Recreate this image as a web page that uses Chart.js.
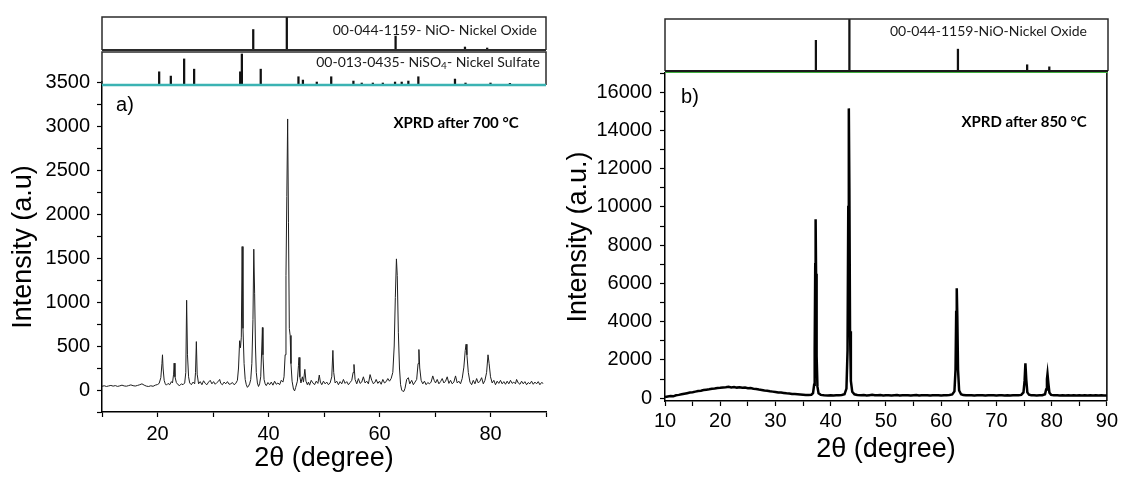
<!DOCTYPE html>
<html>
<head>
    <title>XRD NiO</title>
    <script src="https://cdn.jsdelivr.net/npm/chart.js"></script>
    <style>
        body { margin: 0; background: #fff; }
        .box { position: absolute; }
    </style>
</head>
<body>
    <div class="box" style="left:0;top:0"><canvas id="leftMain" width="560" height="477"></canvas></div>
    <div class="box" style="left:560px;top:0"><canvas id="rightMain" width="561" height="477"></canvas></div>
    <div class="box" style="left:100px;top:15px"><canvas id="leftNiO" width="448" height="37"></canvas></div>
    <div class="box" style="left:100px;top:50px"><canvas id="leftNiSO4" width="448" height="37"></canvas></div>
    <div class="box" style="left:663px;top:17px"><canvas id="rightNiO" width="447" height="56"></canvas></div>

    <script>
        // a) pattern after 700 °C  [2theta, counts]
        var pattern700 = [
            [10.0,42],[10.4,48],[10.8,40],[11.2,46],[11.6,52],[12.0,44],[12.4,50],[12.8,41],[13.2,47],[13.6,55],
            [14.0,46],[14.4,43],[14.8,50],[15.2,58],[15.6,49],[16.0,45],[16.4,52],[16.8,60],[17.2,70],[17.6,55],
            [18.0,44],[18.4,40],[18.8,48],[19.2,42],[19.6,55],[20.0,62],[20.3,75],[20.6,140],[20.8,300],[20.9,400],
            [21.0,250],[21.2,110],[21.4,70],[21.6,55],[21.9,75],[22.2,60],[22.5,95],[22.7,80],[22.9,180],[23.0,305],
            [23.15,150],[23.4,85],[23.7,60],[24.0,50],[24.3,70],[24.6,60],[24.9,80],[25.1,200],[25.25,1020],[25.4,400],
            [25.6,150],[25.8,80],[26.1,60],[26.4,90],[26.7,70],[26.85,200],[27.0,550],[27.15,180],[27.4,70],[27.7,95],
            [28.0,60],[28.3,105],[28.6,75],[28.9,60],[29.2,90],[29.5,110],[29.8,70],[30.1,95],[30.4,65],[30.7,85],
            [31.0,100],[31.2,120],[31.4,75],[31.7,60],[32.0,90],[32.3,70],[32.6,95],[32.9,65],[33.2,70],[33.5,85],
            [33.8,60],[34.1,75],[34.4,110],[34.6,250],[34.8,560],[34.95,480],[35.1,600],[35.25,1630],[35.4,700],[35.6,300],
            [35.8,120],[36.0,60],[36.2,30],[36.4,45],[36.6,70],[36.8,120],[37.0,300],[37.2,800],[37.35,1600],[37.5,1100],
            [37.65,500],[37.8,200],[38.0,80],[38.2,40],[38.4,70],[38.6,150],[38.8,500],[38.9,710],[39.0,400],[39.2,120],
            [39.4,70],[39.6,50],[39.9,85],[40.2,60],[40.5,90],[40.8,55],[41.1,100],[41.4,65],[41.7,80],[42.0,60],
            [42.3,110],[42.6,90],[42.8,150],[43.0,400],[43.15,1300],[43.3,2200],[43.45,3080],[43.6,1900],[43.75,700],[43.9,620],
            [44.05,300],[44.25,100],[44.5,10],[44.7,-10],[44.9,30],[45.2,100],[45.4,280],[45.5,370],[45.65,150],[45.85,80],
            [46.1,150],[46.3,90],[46.55,235],[46.75,100],[47.0,60],[47.2,90],[47.4,55],[47.7,110],[48.0,80],[48.3,60],
            [48.6,100],[48.9,75],[49.15,170],[49.35,90],[49.6,60],[49.9,100],[50.2,70],[50.5,90],[50.8,60],[51.1,80],
            [51.4,150],[51.6,450],[51.75,200],[52.0,80],[52.3,100],[52.6,60],[52.9,95],[53.2,70],[53.5,120],[53.8,75],
            [54.1,95],[54.4,60],[54.7,85],[55.0,110],[55.25,200],[55.4,290],[55.6,120],[55.9,70],[56.2,130],[56.5,75],
            [56.8,90],[57.1,150],[57.4,80],[57.7,100],[58.0,70],[58.3,175],[58.6,110],[58.9,70],[59.2,90],[59.4,120],
            [59.7,75],[60.0,100],[60.3,65],[60.6,120],[60.9,80],[61.2,95],[61.5,130],[61.8,100],[62.1,130],[62.4,200],
            [62.65,500],[62.85,1050],[63.05,1490],[63.2,1300],[63.4,650],[63.6,250],[63.8,60],[64.0,0],[64.2,-15],[64.4,-15],
            [64.6,20],[64.9,120],[65.2,140],[65.45,70],[65.8,110],[66.1,60],[66.4,90],[66.7,120],[66.95,300],[67.1,460],
            [67.25,250],[67.5,110],[67.8,70],[68.1,100],[68.4,60],[68.7,85],[69.0,70],[69.3,90],[69.6,160],[69.85,110],
            [70.1,80],[70.4,120],[70.7,70],[71.0,95],[71.3,130],[71.6,80],[71.9,100],[72.2,150],[72.5,75],[72.8,110],
            [73.1,70],[73.4,90],[73.7,160],[74.0,80],[74.3,100],[74.6,70],[74.9,130],[75.2,260],[75.45,450],[75.6,520],
            [75.75,400],[76.0,200],[76.3,90],[76.6,60],[76.9,110],[77.2,70],[77.5,130],[77.8,80],[78.1,100],[78.4,140],
            [78.7,70],[79.0,110],[79.3,200],[79.55,400],[79.75,300],[80.0,150],[80.3,80],[80.6,110],[80.9,60],[81.2,100],
            [81.5,75],[81.8,110],[82.1,70],[82.4,95],[82.7,65],[83.0,100],[83.3,70],[83.6,110],[83.9,75],[84.2,90],
            [84.5,70],[84.7,120],[85.0,80],[85.3,65],[85.6,100],[85.9,70],[86.2,95],[86.5,60],[86.8,85],[87.1,70],
            [87.4,100],[87.7,65],[88.0,90],[88.3,70],[88.6,95],[88.9,60],[89.2,85],[89.5,75]
        ];

        // b) pattern after 850 °C  [2theta, counts]
        var pattern850 = [
            [10.0,60],[10.5,90],[11.0,110],[11.5,95],[12.0,150],[12.5,170],[13.0,200],[13.5,230],[14.0,260],[14.5,290],
            [15.0,310],[15.5,340],[16.0,370],[16.5,390],[17.0,420],[17.5,440],[18.0,460],[18.5,490],[19.0,500],[19.5,530],
            [20.0,540],[20.5,560],[21.0,570],[21.5,590],[22.0,560],[22.5,580],[23.0,550],[23.5,570],[24.0,540],[24.5,550],
            [25.0,520],[25.5,530],[26.0,490],[26.5,480],[27.0,450],[27.5,430],[28.0,400],[28.5,390],[29.0,360],[29.5,340],
            [30.0,320],[30.5,300],[31.0,290],[31.5,270],[32.0,250],[32.5,240],[33.0,220],[33.5,210],[34.0,200],[34.5,190],
            [35.0,180],[35.5,170],[36.0,165],[36.5,180],[36.8,260],[37.0,700],[37.1,2600],[37.2,7000],[37.27,9350],[37.35,6500],
            [37.45,2200],[37.6,600],[37.8,250],[38.2,170],[38.8,150],[39.5,140],[40.0,150],[40.5,135],[41.0,145],[41.5,150],
            [42.0,160],[42.5,200],[42.85,500],[43.05,2500],[43.18,10000],[43.28,15150],[43.38,11000],[43.5,3500],[43.65,900],[43.9,330],
            [44.3,200],[44.8,160],[45.5,150],[46.0,160],[46.5,140],[47.0,155],[47.5,170],[48.0,150],[48.5,145],[49.0,160],
            [49.5,140],[50.0,150],[50.5,155],[51.0,140],[51.5,150],[52.0,160],[52.5,140],[53.0,150],[53.5,145],[54.0,155],
            [54.5,140],[55.0,150],[55.5,160],[56.0,140],[56.5,150],[57.0,145],[57.5,155],[58.0,140],[58.5,150],[59.0,145],
            [59.5,155],[60.0,140],[60.5,150],[61.0,155],[61.5,160],[62.0,190],[62.4,350],[62.6,1500],[62.72,4500],[62.82,5750],
            [62.92,4300],[63.05,1500],[63.25,400],[63.6,200],[64.0,160],[64.5,150],[65.0,145],[65.5,155],[66.0,140],[66.5,150],
            [67.0,145],[67.5,150],[68.0,140],[68.5,150],[69.0,145],[69.5,155],[70.0,140],[70.5,150],[71.0,145],[71.5,140],
            [72.0,150],[72.5,140],[73.0,145],[73.5,150],[74.0,150],[74.5,170],[74.9,300],[75.1,900],[75.25,1820],[75.4,1000],
            [75.6,300],[75.9,180],[76.3,150],[76.8,145],[77.3,140],[77.8,150],[78.3,155],[78.8,200],[79.0,450],[79.15,1000],
            [79.25,1260],[79.4,800],[79.6,280],[79.9,170],[80.4,150],[81.0,145],[81.5,140],[82.0,150],[82.5,140],[83.0,145],
            [83.5,140],[84.0,150],[84.5,140],[85.0,145],[85.5,140],[86.0,150],[86.5,135],[87.0,145],[87.5,140],[88.0,150],
            [88.5,135],[89.0,145],[89.5,140],[90.0,140]
        ];

        // reference cards (2theta, relative intensity %)
        var nioPos = [37.25, 43.3, 62.9, 75.4, 79.4];
        var nioRelLeft = [62, 100, 42, 9, 6];
        var nioRelRight = [59, 100, 42, 12, 8];
        var niso4Pos = [20.3, 22.4, 24.8, 26.6, 34.9, 35.2, 38.6, 45.4, 46.2, 48.7, 51.3, 55.3, 56.8, 58.8, 60.6, 62.8, 64.0, 65.2, 67.0, 73.6, 75.5, 80.0, 83.5];
        var niso4Rel = [40, 27, 79, 48, 40, 94, 48, 25, 15, 9, 25, 12, 6, 6, 6, 9, 9, 12, 25, 18, 6, 6, 5];

        // ticks (all tick marks) and the ones that carry a label
        var leftXTicks = [10, 20, 30, 40, 50, 60, 70, 80, 90];
        var leftXLabels = [20, 40, 60, 80];
        var leftYTicks = [-250, 0, 250, 500, 750, 1000, 1250, 1500, 1750, 2000, 2250, 2500, 2750, 3000, 3250, 3500];
        var leftYLabels = [0, 500, 1000, 1500, 2000, 2500, 3000, 3500];
        var rightXTicks = [10, 15, 20, 25, 30, 35, 40, 45, 50, 55, 60, 65, 70, 75, 80, 85, 90];
        var rightXLabels = [10, 20, 30, 40, 50, 60, 70, 80, 90];
        var rightYTicks = [0, 1000, 2000, 3000, 4000, 5000, 6000, 7000, 8000, 9000, 10000, 11000, 12000, 13000, 14000, 15000, 16000, 17000];
        var rightYLabels = [0, 2000, 4000, 6000, 8000, 10000, 12000, 14000, 16000];

        var sans = 'Liberation Sans';

        function toXY(arr) { return arr.map(function (p) { return {x: p[0], y: p[1]}; }); }
        function sticks(pos, rel) { return pos.map(function (p, i) { return {x: p, y: rel[i]}; }); }

        // text labels + frame lines on main panels
        var panelText = {
            id: 'panelText',
            afterDraw: function (chart, args, opts) {
                var ctx = chart.ctx, a = chart.chartArea;
                ctx.save();
                (opts.items || []).forEach(function (t) {
                    ctx.font = t.font;
                    ctx.fillStyle = '#000';
                    ctx.textAlign = 'center';
                    ctx.textBaseline = 'middle';
                    ctx.fillText(t.text, a.left + t.dx, a.top + t.dy);
                });
                if (opts.rightBorder) {
                    ctx.strokeStyle = '#000';
                    ctx.lineWidth = 1.5;
                    ctx.beginPath();
                    ctx.moveTo(a.right, a.top);
                    ctx.lineTo(a.right, a.bottom);
                    ctx.stroke();
                }
                ctx.restore();
            }
        };

        // frame + card label for stick panels
        var stickFrame = {
            id: 'stickFrame',
            afterDatasetsDraw: function (chart, args, opts) {
                var ctx = chart.ctx, a = chart.chartArea;
                ctx.save();
                ctx.strokeStyle = '#2b2b2b';
                ctx.lineWidth = 1.5;
                ctx.beginPath();
                ctx.moveTo(a.left, a.bottom);
                ctx.lineTo(a.left, a.top);
                ctx.lineTo(a.right, a.top);
                ctx.lineTo(a.right, a.bottom);
                ctx.stroke();
                ctx.strokeStyle = opts.baseColor;
                ctx.lineWidth = opts.baseWidth;
                ctx.beginPath();
                ctx.moveTo(a.left, a.bottom);
                ctx.lineTo(a.right, a.bottom);
                ctx.stroke();
                if (opts.underColor) {
                    ctx.strokeStyle = opts.underColor;
                    ctx.lineWidth = 1;
                    ctx.beginPath();
                    ctx.moveTo(a.left, a.bottom + 1.5);
                    ctx.lineTo(a.right, a.bottom + 1.5);
                    ctx.stroke();
                }
                // label, right aligned, pieces may be subscript
                var main = '14px Lato', sub = '10px Lato';
                var w = 0;
                opts.label.forEach(function (p) {
                    ctx.font = p.sub ? sub : main;
                    w += ctx.measureText(p.text).width;
                });
                var x = a.right - opts.labelRight - w, y = a.top + opts.labelTop;
                ctx.fillStyle = '#1a1a1a';
                ctx.textAlign = 'left';
                ctx.textBaseline = 'middle';
                opts.label.forEach(function (p) {
                    ctx.font = p.sub ? sub : main;
                    ctx.fillText(p.text, x, p.sub ? y + 4 : y);
                    x += ctx.measureText(p.text).width;
                });
                ctx.restore();
            }
        };

        function stickChart(id, data, frameOpts) {
            return new Chart(document.getElementById(id), {
                type: 'bar',
                data: { datasets: [{ data: data, backgroundColor: '#111', barThickness: 1.6, grouped: false }] },
                options: {
                    responsive: false,
                    animation: false,
                    layout: { padding: 2 },
                    plugins: { legend: { display: false }, tooltip: { enabled: false }, stickFrame: frameOpts },
                    scales: {
                        x: { type: 'linear', min: 10, max: 90, offset: false, display: false },
                        y: { min: 0, max: 100, display: false }
                    }
                },
                plugins: [stickFrame]
            });
        }

        function setTicks(values) {
            return function (s) { s.ticks = values.map(function (v) { return {value: v}; }); };
        }
        function labelOnly(values) {
            return function (v) { return values.indexOf(v) >= 0 ? v : ''; };
        }

        function xAxis(tickVals, labelVals, height, titlePadBottom, tickPad) {
            return {
                type: 'linear', min: 10, max: 90,
                border: { color: '#000', width: 1.5 },
                grid: { drawOnChartArea: false, drawTicks: true, tickLength: 5, tickColor: '#000', tickWidth: 1.2 },
                ticks: { autoSkip: false, maxRotation: 0, padding: tickPad, color: '#000',
                    font: { family: sans, size: 20 }, callback: labelOnly(labelVals) },
                afterBuildTicks: setTicks(tickVals),
                title: { display: true, text: '2θ (degree)', color: '#000', font: { family: sans, size: 27 },
                    padding: { top: 0, bottom: titlePadBottom } },
                afterFit: function (s) { s.height = height; }
            };
        }

        function yAxis(min, max, tickVals, labelVals, text, width, titlePadTop, tickPad) {
            return {
                min: min, max: max,
                border: { color: '#000', width: 1.5 },
                grid: { drawOnChartArea: false, drawTicks: true, tickLength: 5, tickColor: '#000', tickWidth: 1.2 },
                ticks: { autoSkip: false, padding: tickPad, color: '#000',
                    font: { family: sans, size: 20 }, callback: labelOnly(labelVals) },
                afterBuildTicks: setTicks(tickVals),
                title: { display: true, text: text, color: '#000', font: { family: sans, size: 27 },
                    padding: { top: titlePadTop, bottom: 0 } },
                afterFit: function (s) { s.width = width; }
            };
        }

        // a) 700 °C
        new Chart(document.getElementById('leftMain'), {
            type: 'line',
            data: { datasets: [{ data: toXY(pattern700), borderColor: '#1e1e1e', borderWidth: 1, pointRadius: 0, tension: 0 }] },
            options: {
                responsive: false,
                animation: false,
                layout: { padding: { top: 82, right: 14, bottom: 0, left: 0 } },
                plugins: {
                    legend: { display: false }, tooltip: { enabled: false },
                    panelText: { items: [
                        { text: 'a)', font: '20px ' + sans, dx: 23, dy: 23 },
                        { text: 'XPRD after 700 °C', font: 'bold 15px Lato', dx: 354, dy: 41 }
                    ] }
                },
                scales: {
                    x: xAxis(leftXTicks, leftXLabels, 65, 2, 5),
                    y: yAxis(-250, 3500, leftYTicks, leftYLabels, 'Intensity (a.u)', 102, 7, 7)
                }
            },
            plugins: [panelText]
        });

        // b) 850 °C
        new Chart(document.getElementById('rightMain'), {
            type: 'line',
            data: { datasets: [{ data: toXY(pattern850), borderColor: '#000', borderWidth: 2.5, pointRadius: 0, tension: 0 }] },
            options: {
                responsive: false,
                animation: false,
                layout: { padding: { top: 73, right: 13, bottom: 0, left: 0 } },
                plugins: {
                    legend: { display: false }, tooltip: { enabled: false },
                    panelText: { rightBorder: true, items: [
                        { text: 'b)', font: '20px ' + sans, dx: 25, dy: 24 },
                        { text: 'XPRD after 850 °C', font: 'bold 15px Lato', dx: 359, dy: 49 }
                    ] }
                },
                scales: {
                    x: xAxis(rightXTicks, rightXLabels, 76, 11, 3),
                    y: yAxis(-150, 17000, rightYTicks, rightYLabels, 'Intensity (a.u.)', 105, 2, 8)
                }
            },
            plugins: [panelText]
        });

        stickChart('leftNiO', sticks(nioPos, nioRelLeft), {
            baseColor: '#2b2b2b', baseWidth: 2, labelRight: 9, labelTop: 13,
            label: [{ text: '00-044-1159- NiO- Nickel Oxide' }]
        });
        stickChart('leftNiSO4', sticks(niso4Pos, niso4Rel), {
            baseColor: '#3bb3b3', baseWidth: 2.5, labelRight: 6, labelTop: 10,
            label: [{ text: '00-013-0435- NiSO' }, { text: '4', sub: true }, { text: '- Nickel Sulfate' }]
        });
        stickChart('rightNiO', sticks(nioPos, nioRelRight), {
            baseColor: '#1a1a1a', baseWidth: 2, underColor: '#3fae3f', labelRight: 21, labelTop: 12,
            label: [{ text: '00-044-1159-NiO-Nickel Oxide' }]
        });
    </script>
</body>
</html>
